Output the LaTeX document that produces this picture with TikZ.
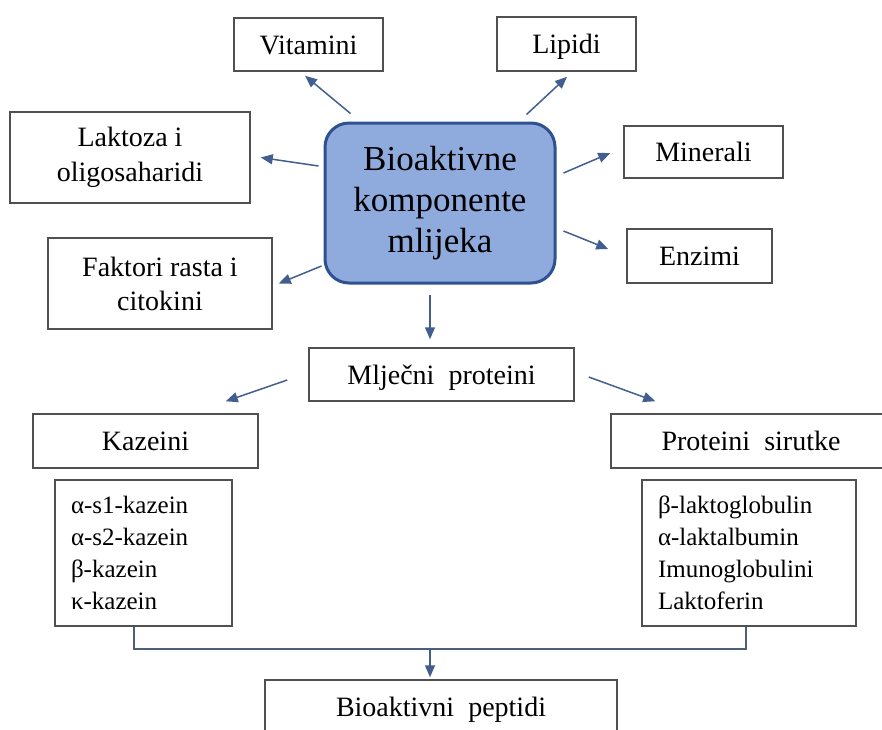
\documentclass[tikz,border=0pt]{standalone}
\usepackage{fontspec}
\setmainfont{Liberation Serif}
\usetikzlibrary{calc}
\usetikzlibrary{arrows.meta}
\definecolor{boxline}{RGB}{80,80,80}
\definecolor{arrowblue}{RGB}{66,94,142}
\definecolor{joinline}{RGB}{78,96,120}
\definecolor{mainfill}{RGB}{143,170,220}
\definecolor{mainline}{RGB}{47,82,143}
\def\BoxFont{\rmfamily\fontsize{28}{34}\selectfont}
\def\MainFont{\rmfamily\fontsize{35}{41}\selectfont}
\def\ListFont{\rmfamily\fontsize{25}{32}\selectfont}
\tikzset{
  box/.style={draw=boxline, line width=1.5pt, fill=white, inner sep=0pt, align=center, font=\BoxFont},
  onebox/.style={box, text height=19pt, text depth=0pt},
  mainbox/.style={draw=mainline, line width=3pt, fill=mainfill, rounded corners=24pt, inner sep=0pt, align=center, font=\MainFont},
  listbox/.style={draw=boxline, line width=1.5pt, inner xsep=16pt, inner ysep=0pt, align=left, font=\ListFont},
  arr/.style={arrowblue, line width=1.5pt, -{Triangle[length=12pt,width=10pt]}},
  joinpath/.style={joinline, line width=1.5pt}
}

\begin{document}
\begin{tikzpicture}[x=1pt,y=-1pt]
  \clip (0,0) rectangle (882,729);
  % central node
  \node[mainbox, minimum width=230pt, minimum height=160pt] (cb) at (440,203) {Bioaktivne\\komponente\\mlijeka};
  % components
  \node[onebox, minimum width=149pt, minimum height=53pt] (vit) at (308.5,44.5) {Vitamini};
  \node[onebox, minimum width=139pt, minimum height=54pt] (lip) at (566.5,44) {Lipidi};
  \node[box, minimum width=240pt, minimum height=91pt, font=\rmfamily\fontsize{28}{35}\selectfont] (lak) at (130,157.5) {Laktoza i\\oligosaharidi};
  \node[box, minimum width=224pt, minimum height=91pt] (fak) at (160,283.5) {Faktori rasta i\\citokini};
  \node[onebox, minimum width=159pt, minimum height=52pt] (min) at (703.5,152) {Minerali};
  \node[onebox, minimum width=145pt, minimum height=54pt] (enz) at (699.5,256) {Enzimi};
  % proteins
  \node[onebox, minimum width=265pt, minimum height=53pt] (mp) at (441.5,374.5) {Mlječni~~proteini};
  \node[onebox, minimum width=225pt, minimum height=54pt] (kaz) at (145.5,441) {Kazeini};
  \node[onebox, minimum width=280pt, minimum height=54pt] (ps) at (751,441) {Proteini~~sirutke};
  \node[listbox, text width=145pt, minimum height=146pt] (kl) at (143.5,553)
    {α-s1-kazein\\α-s2-kazein\\β-kazein\\κ-kazein};
  \node[listbox, text width=182pt, minimum height=146pt] (wl) at (749,553)
    {β-laktoglobulin\\α-laktalbumin\\Imunoglobulini\\Laktoferin};
  \node[onebox, minimum width=352pt, minimum height=54pt] (bp) at (441,707) {Bioaktivni~~peptidi};
  % arrows
  \draw[arr] ($(cb.north west)+(27,-8)$) -- ($(vit.south)+(-3.5,4)$);
  \draw[arr] ($(cb.north east)+(-30,-7)$) -- ($(lip.south)+(0.5,5)$);
  \draw[arr] ($(cb.west)+(-5,-37)$) -- ($(lak.east)+(10,0)$);
  \draw[arr] ($(cb.west)+(-2,63)$) -- ($(fak.east)+(6,0)$);
  \draw[arr] ($(cb.east)+(7,-30)$) -- ($(min.west)+(-13,1)$);
  \draw[arr] ($(cb.east)+(7,28)$) -- ($(enz.west)+(-18,-7)$);
  \draw[arr] ($(cb.south)+(-10,10)$) -- ($(mp.north)+(-11.5,-8)$);
  \draw[arr] ($(mp.west)+(-21,5.5)$) -- ($(kaz.north east)+(-33,-12)$);
  \draw[arr] ($(mp.east)+(14,2.5)$) -- ($(ps.north west)+(45,-12)$);
  % join to peptides
  \coordinate (j) at (430,649);
  \draw[joinpath] ($(kl.south)+(-9.5,0)$) |- (j) -| ($(wl.south)+(-3,0)$);
  \draw[arr] (j) -- ($(bp.north)+(-11,-2)$);
\end{tikzpicture}
\end{document}
